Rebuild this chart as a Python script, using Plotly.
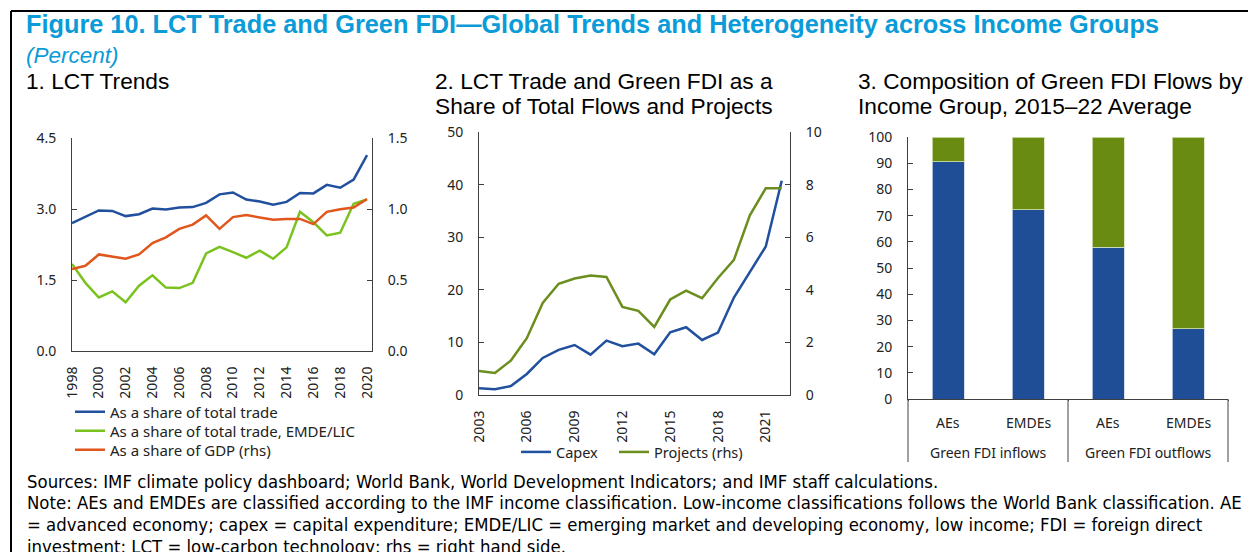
import plotly.graph_objects as go

# panel 1 - LCT trends
years1 = list(range(1998, 2021))
share_trade = [2.70, 2.83, 2.97, 2.96, 2.85, 2.89, 3.01, 2.99, 3.03, 3.04, 3.13, 3.31,
               3.35, 3.20, 3.16, 3.09, 3.15, 3.34, 3.33, 3.51, 3.45, 3.62, 4.14]
share_trade_emde = [1.84, 1.44, 1.13, 1.26, 1.03, 1.38, 1.60, 1.34, 1.33, 1.44, 2.06, 2.20,
                    2.09, 1.97, 2.12, 1.95, 2.19, 2.94, 2.72, 2.44, 2.50, 3.11, 3.20]
share_gdp = [0.578, 0.60, 0.68, 0.665, 0.65, 0.68, 0.76, 0.80, 0.86, 0.89, 0.955, 0.86,
             0.943, 0.957, 0.943, 0.925, 0.93, 0.93, 0.894, 0.98, 0.998, 1.01, 1.07]

# panel 2 - green FDI share
years2 = list(range(2003, 2023))
capex = [1.27, 1.08, 1.7, 4.0, 7.04, 8.57, 9.5, 7.68, 10.34, 9.26, 9.77, 7.74,
         11.93, 12.88, 10.47, 11.87, 18.53, 23.48, 28.24, 40.74]
projects = [0.91, 0.84, 1.31, 2.16, 3.5, 4.23, 4.43, 4.54, 4.49, 3.35, 3.2, 2.59,
            3.63, 3.97, 3.68, 4.45, 5.14, 6.83, 7.86, 7.86]

# panel 3 - composition by income group
flow_groups = ["Green FDI inflows", "Green FDI inflows", "Green FDI outflows", "Green FDI outflows"]
income_groups = ["AEs", "EMDEs", "AEs", "EMDEs"]
part_blue = [90.5, 72.3, 58.0, 26.9]
part_green = [100 - v for v in part_blue]

BLUE = "#21509e"
LIME = "#7ac21e"
ORANGE = "#e0561c"
OLIVE = "#6b8e1e"
BAR_BLUE = "#1f4e96"
BAR_GREEN = "#698b12"
TITLE_BLUE = "#0a9bd8"
AX = "#404040"
SANS = "Noto Sans, Open Sans, sans-serif"
TICKFONT = dict(family=SANS, size=14, color="#222222")
W, H = 1248, 552


def px(x):
    return x / W


def py(y):
    return 1 - y / H


fig = go.Figure()

# one legend per row so the rows sit where the original has them
lg_names = ["legend", "legend3", "legend4"]
p1 = [("As a share of total trade", share_trade, BLUE, "y"),
      ("As a share of total trade, EMDE/LIC", share_trade_emde, LIME, "y"),
      ("As a share of GDP (rhs)", share_gdp, ORANGE, "y2")]
for (name, vals, col, ya), lg in zip(p1, lg_names):
    fig.add_trace(go.Scatter(x=years1, y=vals, name=name, line=dict(color=col, width=2.5),
                             xaxis="x", yaxis=ya, legend=lg))

fig.add_trace(go.Scatter(x=years2, y=capex, name="Capex",
                         line=dict(color=BLUE, width=2.5), xaxis="x2", yaxis="y3", legend="legend2"))
fig.add_trace(go.Scatter(x=years2, y=projects, name="Projects (rhs)",
                         line=dict(color=OLIVE, width=2.5), xaxis="x2", yaxis="y4", legend="legend5"))

fig.add_trace(go.Bar(x=[flow_groups, income_groups], y=part_blue, marker_color=BAR_BLUE,
                     marker_line=dict(color="#c9d6ea", width=0.8), width=0.4,
                     xaxis="x3", yaxis="y5", showlegend=False))
fig.add_trace(go.Bar(x=[flow_groups, income_groups], y=part_green, marker_color=BAR_GREEN,
                     marker_line=dict(color="#d6e3b8", width=0.8), width=0.4,
                     xaxis="x3", yaxis="y5", showlegend=False))

yax = dict(showline=True, linecolor=AX, linewidth=1, ticks="inside", ticklen=5, tickcolor=AX,
           showgrid=False, zeroline=False, tickfont=TICKFONT, ticklabelstandoff=12, automargin=False)
xax = dict(showline=True, linecolor=AX, linewidth=1, ticks="", showgrid=False, zeroline=False,
           tickfont=TICKFONT, tickangle=-90, ticklabelstandoff=9, automargin=False)

legend_row = dict(xanchor="left", yanchor="middle", orientation="v", font=dict(TICKFONT, size=15),
                  bgcolor="rgba(0,0,0,0)", itemwidth=30)
legend_p2 = dict(legend_row, font=dict(TICKFONT, size=14.5))

fig.update_layout(
    width=W, height=H, margin=dict(l=0, r=0, t=0, b=0, autoexpand=False),
    paper_bgcolor="white", plot_bgcolor="white", barmode="stack",
    xaxis=dict(xax, domain=[px(72), px(372)], range=[1998, 2020.37],
               tickvals=list(range(1998, 2021, 2)), anchor="y"),
    yaxis=dict(yax, domain=[py(351), py(138)], range=[0, 4.5], dtick=1.5, tickformat=".1f", anchor="x"),
    yaxis2=dict(yax, overlaying="y", side="right", range=[0, 1.5], dtick=0.5, tickformat=".1f", anchor="x"),
    xaxis2=dict(xax, domain=[px(479), px(790)], range=[2003, 2022.52],
                tickvals=list(range(2003, 2022, 3)), anchor="y3"),
    yaxis3=dict(yax, domain=[py(395), py(132)], range=[0, 50], dtick=10, anchor="x2"),
    yaxis4=dict(yax, overlaying="y3", side="right", range=[0, 10], dtick=2, anchor="x2"),
    xaxis3=dict(showline=True, linecolor=AX, linewidth=1, ticks="", showgrid=False, automargin=False,
                domain=[px(908), px(1228)], showticklabels=False, anchor="y5"),
    yaxis5=dict(yax, domain=[py(399), py(137)], range=[0, 100], dtick=10, anchor="x3"),
    legend=dict(legend_row, x=px(70), y=py(412)),
    legend3=dict(legend_row, x=px(70), y=py(431)),
    legend4=dict(legend_row, x=px(70), y=py(450)),
    legend2=dict(legend_p2, x=px(516), y=py(452)),
    legend5=dict(legend_p2, x=px(614), y=py(452)),
)

TF = "Liberation Sans, Arial, sans-serif"
ann = [
    dict(text="<b>Figure 10. LCT Trade and Green FDI\u2014Global Trends and Heterogeneity across Income Groups</b>",
         x=px(23.5), y=py(23.5), font=dict(family=TF, size=25.3, color=TITLE_BLUE)),
    dict(text="<i>(Percent)</i>", x=px(23.5), y=py(55), font=dict(family=TF, size=22.5, color=TITLE_BLUE)),
    dict(text="1. LCT Trends", x=px(24), y=py(80.5), font=dict(family=TF, size=22.7, color="black")),
    dict(text="2. LCT Trade and Green FDI as a", x=px(433), y=py(80.5), font=dict(family=TF, size=22.7, color="black")),
    dict(text="Share of Total Flows and Projects", x=px(433), y=py(105.5), font=dict(family=TF, size=22.7, color="black")),
    dict(text="3. Composition of Green FDI Flows by", x=px(856), y=py(80.5), font=dict(family=TF, size=22.7, color="black")),
    dict(text="Income Group, 2015\u201322 Average", x=px(856), y=py(105.5), font=dict(family=TF, size=22.7, color="black")),
]
# category labels under panel 3
for xc, lab in zip([948, 1028, 1108, 1188], income_groups):
    ann.append(dict(text=lab, x=px(xc), y=py(422), xanchor="center", font=TICKFONT))
for xc, lab in zip([988, 1148], [flow_groups[0], flow_groups[2]]):
    ann.append(dict(text=lab, x=px(xc), y=py(452), xanchor="center", font=TICKFONT))

NF = dict(family="DejaVu Sans Condensed, sans-serif", size=18.4, color="black")
notes = [
    "Sources: IMF climate policy dashboard; World Bank, World Development Indicators; and IMF staff calculations.",
    "Note: AEs and EMDEs are classified according to the IMF income classification. Low-income classifications follows the World Bank classification. AE",
    "= advanced economy; capex = capital expenditure; EMDE/LIC = emerging market and developing economy, low income; FDI = foreign direct",
    "investment; LCT = low-carbon technology; rhs = right hand side.",
]
for i, t in enumerate(notes):
    ann.append(dict(text=t, x=px(25), y=py(481 + 21.7 * i), font=NF))
for a in ann:
    a.setdefault("xanchor", "left")
    a.update(xref="paper", yref="paper", yanchor="middle", showarrow=False)
fig.update_layout(annotations=ann)

# outer frame of the figure box
fig.add_shape(type="line", xref="paper", yref="paper", x0=px(11), x1=px(11), y0=0, y1=py(11),
              line=dict(color="black", width=2))
fig.add_shape(type="line", xref="paper", yref="paper", x0=px(11), x1=1, y0=py(11), y1=py(11),
              line=dict(color="black", width=2))
# dividers of the panel 3 category box
for xd in [908, 1068, 1228]:
    fig.add_shape(type="line", xref="paper", yref="paper", x0=px(xd), x1=px(xd), y0=py(399), y1=py(462),
                  line=dict(color=AX, width=1))

fig.write_html("out.html", config={"displayModeBar": False},
               post_script="document.body.style.margin='0px';")
